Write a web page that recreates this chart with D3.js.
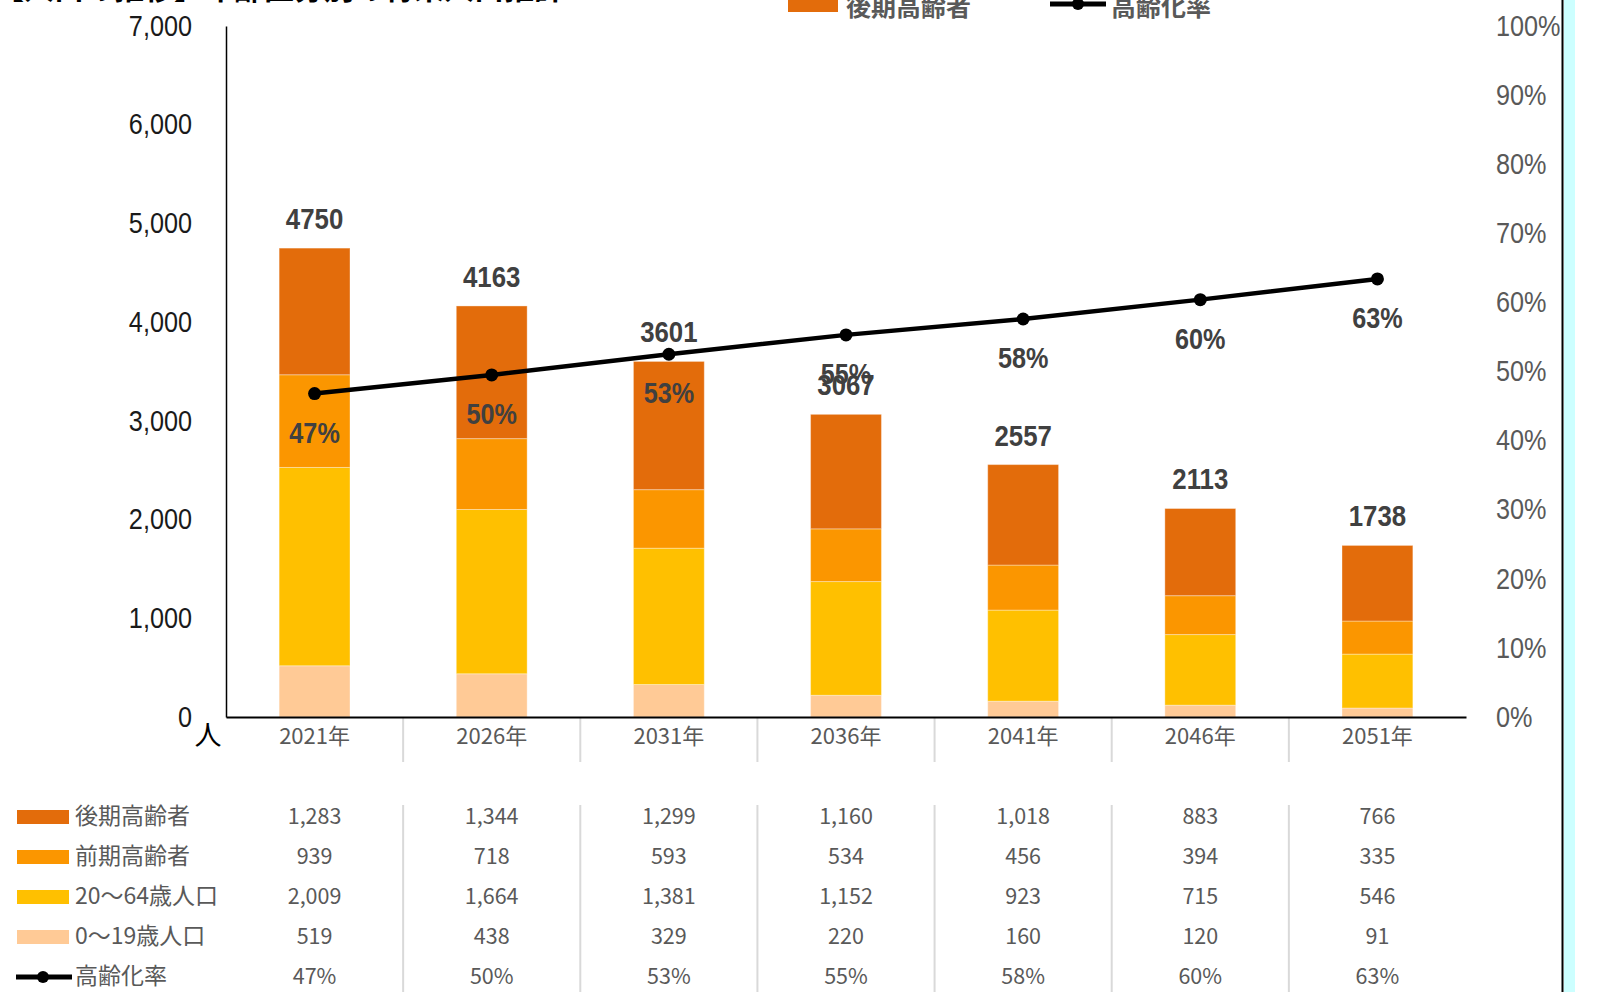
<!DOCTYPE html>
<html>
<head>
<meta charset="utf-8">
<script src="https://cdn.jsdelivr.net/npm/d3@7"></script>
<style>
  body { margin: 0; background: #fff; overflow: hidden; }
  .num { font-family: "Liberation Sans Narrow", "Liberation Sans", Arial, sans-serif; }
  .jp { font-family: "Noto Sans CJK JP", "Noto Sans", sans-serif; }
</style>
</head>
<body>
<script>
// data
const years = ["2021年", "2026年", "2031年", "2036年", "2041年", "2046年", "2051年"];
const late = [1283, 1344, 1299, 1160, 1018, 883, 766];      // 後期高齢者
const early = [939, 718, 593, 534, 456, 394, 335];          // 前期高齢者
const adult = [2009, 1664, 1381, 1152, 923, 715, 546];      // 20〜64歳人口
const young = [519, 438, 329, 220, 160, 120, 91];           // 0〜19歳人口
const totals = [4750, 4163, 3601, 3067, 2557, 2113, 1738];
const rate = [0.468, 0.495, 0.525, 0.553, 0.576, 0.604, 0.634]; // 高齢化率
const leftTicks = [0, 1000, 2000, 3000, 4000, 5000, 6000, 7000];
const rightTicks = [0, 0.1, 0.2, 0.3, 0.4, 0.5, 0.6, 0.7, 0.8, 0.9, 1.0];

const series = [
  {key: "young", name: "0〜19歳人口", color: "#FFCA96", values: young},
  {key: "adult", name: "20〜64歳人口", color: "#FFC000", values: adult},
  {key: "early", name: "前期高齢者", color: "#FB9600", values: early},
  {key: "late", name: "後期高齢者", color: "#E36C0B", values: late}
];

const W = 1598, H = 992;
const svg = d3.select("body").append("svg").attr("width", W).attr("height", H);

const x = d3.scaleBand().domain(years).range([226, 1466]).paddingInner(0.6).paddingOuter(0.3);
const y = d3.scaleLinear().domain([0, 7000]).range([717, 26]);
const yR = d3.scaleLinear().domain([0, 1]).range([717, 26]);

// squeeze numbers a bit, the original uses a narrow face
function narrow(sel, k) {
  sel.each(function() {
    const w = this.getComputedTextLength();
    d3.select(this).attr("textLength", w * k).attr("lengthAdjust", "spacingAndGlyphs");
  });
}

// title (cut off at top in the original)
svg.append("text").attr("class", "jp")
  .attr("x", -6).attr("y", -1.5)
  .attr("font-size", 30).attr("font-weight", "bold").attr("fill", "#000")
  .text("【人口の推移】年齢区分別の将来人口推計");

// top legend (partly cut)
svg.append("rect").attr("x", 788).attr("y", -10).attr("width", 50).attr("height", 22).attr("fill", "#E36C0B");
svg.append("text").attr("class", "jp").attr("x", 846).attr("y", 16)
  .attr("font-size", 25).attr("font-weight", "bold").attr("fill", "#595959").text("後期高齢者");
svg.append("line").attr("x1", 1050).attr("x2", 1106).attr("y1", 4).attr("y2", 4)
  .attr("stroke", "#000").attr("stroke-width", 5);
svg.append("circle").attr("cx", 1078).attr("cy", 4).attr("r", 6).attr("fill", "#000");
svg.append("text").attr("class", "jp").attr("x", 1111).attr("y", 16)
  .attr("font-size", 25).attr("font-weight", "bold").attr("fill", "#595959").text("高齢化率");

// category separators
const step = x.step();
const sepX = d3.range(1, years.length).map(i => x.range()[0] + step * i);
svg.selectAll(".sep1").data(sepX).enter().append("line")
  .attr("x1", d => d).attr("x2", d => d).attr("y1", 717).attr("y2", 762)
  .attr("stroke", "#d9d9d9").attr("stroke-width", 2);
svg.selectAll(".sep2").data(sepX).enter().append("line")
  .attr("x1", d => d).attr("x2", d => d).attr("y1", 805).attr("y2", H)
  .attr("stroke", "#d9d9d9").attr("stroke-width", 2);

// stacked bars
const rows = years.map((yr, i) => {
  const o = {year: yr};
  series.forEach(s => o[s.key] = s.values[i]);
  return o;
});
const stack = d3.stack().keys(series.map(s => s.key))(rows);
svg.selectAll(".layer").data(stack).enter().append("g")
  .attr("fill", (d, i) => series[i].color)
  .selectAll("rect").data(d => d).enter().append("rect")
  .attr("x", d => x(d.data.year))
  .attr("width", x.bandwidth())
  .attr("y", d => y(d[1]))
  .attr("height", d => y(d[0]) - y(d[1]))
  .attr("stroke", "#fff").attr("stroke-opacity", 0.35).attr("stroke-width", 1);

// axes
const leftAxis = svg.append("g").attr("transform", "translate(226,0)")
  .call(d3.axisLeft(y).tickValues(leftTicks).tickSize(0).tickPadding(34).tickFormat(d3.format(",")));
leftAxis.select(".domain").attr("stroke", "#000").attr("stroke-width", 1.5);
leftAxis.selectAll("text").attr("class", "num").attr("font-size", 29).attr("fill", "#1a1a1a")
  .call(narrow, 0.87);

const rightAxis = svg.append("g").attr("transform", "translate(1496,0)")
  .call(d3.axisRight(yR).tickValues(rightTicks).tickSize(0).tickPadding(0).tickFormat(d3.format(".0%")));
rightAxis.select(".domain").remove();
rightAxis.selectAll("text").attr("class", "num").attr("font-size", 29).attr("fill", "#595959")
  .call(narrow, 0.87);

const bottomAxis = svg.append("g").attr("transform", "translate(0,717)")
  .call(d3.axisBottom(x).tickSize(0).tickPadding(11));
bottomAxis.select(".domain").attr("stroke", "#000").attr("stroke-width", 2);
bottomAxis.selectAll("text").attr("class", "jp").attr("font-size", 22).attr("fill", "#595959");

svg.append("text").attr("class", "jp").attr("x", 208).attr("y", 738)
  .attr("text-anchor", "middle").attr("dominant-baseline", "middle")
  .attr("font-size", 27).attr("fill", "#000").text("人");

// line
const cx = (d, i) => x(years[i]) + x.bandwidth() / 2;
svg.append("path").datum(rate)
  .attr("fill", "none").attr("stroke", "#000").attr("stroke-width", 4.5)
  .attr("d", d3.line().x(cx).y(d => yR(d)));
svg.selectAll(".dot").data(rate).enter().append("circle")
  .attr("cx", cx).attr("cy", d => yR(d)).attr("r", 6.5).attr("fill", "#000");

// data labels
svg.selectAll(".tot").data(totals).enter().append("text")
  .attr("class", "num")
  .attr("x", cx).attr("y", d => y(d) - 27)
  .attr("text-anchor", "middle").attr("dominant-baseline", "middle")
  .attr("font-size", 30).attr("font-weight", "bold").attr("fill", "#404040")
  .text(d => d)
  .call(narrow, 0.86);
svg.selectAll(".pct").data(rate).enter().append("text")
  .attr("class", "num")
  .attr("x", cx).attr("y", d => yR(d) + 41)
  .attr("text-anchor", "middle").attr("dominant-baseline", "middle")
  .attr("font-size", 30).attr("font-weight", "bold").attr("fill", "#404040")
  .text(d => d3.format(".0%")(d))
  .call(narrow, 0.84);

// data table
const tableRows = [
  {name: "後期高齢者", color: "#E36C0B", values: late.map(d3.format(","))},
  {name: "前期高齢者", color: "#FB9600", values: early.map(d3.format(","))},
  {name: "20〜64歳人口", color: "#FFC000", values: adult.map(d3.format(","))},
  {name: "0〜19歳人口", color: "#FFCA96", values: young.map(d3.format(","))},
  {name: "高齢化率", line: true, values: rate.map(d3.format(".0%"))}
];
const rowY = [818, 858, 898, 938, 978];
const tr = svg.selectAll(".trow").data(tableRows).enter().append("g")
  .attr("transform", (d, i) => "translate(0," + rowY[i] + ")");
tr.filter(d => !d.line).append("rect")
  .attr("x", 17).attr("y", -8).attr("width", 52).attr("height", 14).attr("fill", d => d.color);
tr.filter(d => d.line).append("line")
  .attr("x1", 16).attr("x2", 72).attr("y1", -1).attr("y2", -1).attr("stroke", "#000").attr("stroke-width", 5);
tr.filter(d => d.line).append("circle")
  .attr("cx", 43).attr("cy", -1).attr("r", 6).attr("fill", "#000");
tr.append("text").attr("class", "jp")
  .attr("x", 75).attr("y", 0).attr("dominant-baseline", "middle")
  .attr("font-size", 23).attr("fill", "#595959").text(d => d.name);
tr.selectAll(".val").data(d => d.values).enter().append("text")
  .attr("class", "jp")
  .attr("x", (d, i) => x(years[i]) + x.bandwidth() / 2).attr("y", 0)
  .attr("text-anchor", "middle").attr("dominant-baseline", "middle")
  .attr("font-size", 21.5).attr("fill", "#595959").text(d => d);

// right frame edge
svg.append("rect").attr("x", 1564).attr("y", 0).attr("width", 11).attr("height", H).attr("fill", "#CCFFFF");
svg.append("line").attr("x1", 1562.5).attr("x2", 1562.5).attr("y1", 0).attr("y2", H)
  .attr("stroke", "#000").attr("stroke-width", 2);
</script>
</body>
</html>
